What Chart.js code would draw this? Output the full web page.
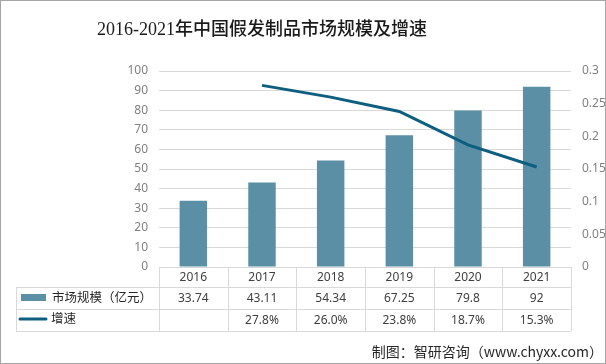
<!DOCTYPE html>
<html lang="zh">
<head>
<meta charset="UTF-8" />
<title>2016-2021年中国假发制品市场规模及增速</title>
<script src="https://cdn.jsdelivr.net/npm/chart.js"></script>
<style>
  html, body { margin: 0; padding: 0; background: #fff; }
  #wrap { position: relative; width: 606px; height: 364px; }
</style>
</head>
<body>
<div id="wrap"><canvas id="chart"></canvas></div>
<script>
const years = ["2016", "2017", "2018", "2019", "2020", "2021"];
const marketSize = [33.74, 43.11, 54.34, 67.25, 79.8, 92];
const growth = [null, 0.278, 0.26, 0.238, 0.187, 0.153];
const sizeLabels = ["33.74", "43.11", "54.34", "67.25", "79.8", "92"];
const growthLabels = ["", "27.8%", "26.0%", "23.8%", "18.7%", "15.3%"];

const barColor = "#5b8fa6";
const lineColor = "#0d5e7f";
const gridColor = "#d9d9d9";
const font = '"Noto Sans", "Noto Sans CJK SC", sans-serif';

// table, title, source note and frame drawn on top of the chart
const tablePlugin = {
  id: "tablePlugin",
  afterDraw(chart) {
    const ctx = chart.ctx;
    const x = chart.scales.x;
    const area = chart.chartArea;
    const left = 16, top = area.bottom;
    const rows = [top, 287, 309, 331];
    const step = (area.right - area.left) / years.length;

    ctx.save();
    ctx.strokeStyle = gridColor;
    ctx.lineWidth = 1;
    ctx.beginPath();
    // horizontal lines
    ctx.moveTo(area.left, top + 0.5); ctx.lineTo(area.right, top + 0.5);
    for (let i = 1; i < rows.length; i++) {
      ctx.moveTo(left, rows[i] + 0.5); ctx.lineTo(area.right, rows[i] + 0.5);
    }
    // vertical lines
    for (let i = 0; i <= years.length; i++) {
      const vx = Math.round(area.left + step * i) + 0.5;
      ctx.moveTo(vx, top); ctx.lineTo(vx, rows[3]);
    }
    ctx.moveTo(left + 0.5, rows[1]); ctx.lineTo(left + 0.5, rows[3]);
    ctx.stroke();

    ctx.fillStyle = "#404040";
    ctx.font = "12px " + font;
    ctx.textAlign = "center";
    ctx.textBaseline = "middle";
    years.forEach((y, i) => {
      const cx = x.getPixelForValue(i);
      ctx.fillText(y, cx, (rows[0] + rows[1]) / 2 + 1);
      ctx.fillText(sizeLabels[i], cx, (rows[1] + rows[2]) / 2 + 1);
      ctx.fillText(growthLabels[i], cx, (rows[2] + rows[3]) / 2 + 1);
    });

    // legend keys
    ctx.fillStyle = barColor;
    ctx.fillRect(21, 294, 25, 7);
    ctx.strokeStyle = lineColor;
    ctx.lineWidth = 3;
    ctx.lineCap = "round";
    ctx.beginPath();
    ctx.moveTo(20, 319); ctx.lineTo(46, 319);
    ctx.stroke();
    ctx.fillStyle = "#262626";
    ctx.textAlign = "left";
    ctx.font = "12.5px " + font;
    ctx.fillText("市场规模（亿元）", 52, 298);
    ctx.fillText("增速", 51, 319);

    // title
    ctx.fillStyle = "#1a1a1a";
    ctx.font = '500 18px "Liberation Serif", "Noto Sans CJK SC", serif';
    ctx.textAlign = "center";
    ctx.fillText("2016-2021年中国假发制品市场规模及增速", 262, 30);

    // source
    ctx.fillStyle = "#262626";
    ctx.font = '14px "Noto Sans CJK SC", sans-serif';
    ctx.textAlign = "right";
    ctx.fillText("制图：智研咨询（www.chyxx.com）", 603, 352);

    // frame
    ctx.strokeStyle = "#a6a6a6";
    ctx.lineWidth = 1;
    ctx.strokeRect(0.5, 0.5, 605, 363);
    ctx.restore();
  }
};

new Chart(document.getElementById("chart"), {
  data: {
    labels: years,
    datasets: [
      {
        type: "line",
        label: "增速",
        data: growth,
        yAxisID: "y1",
        borderColor: lineColor,
        borderWidth: 3,
        pointRadius: 0,
        tension: 0,
        order: 0
      },
      {
        type: "bar",
        label: "市场规模（亿元）",
        data: marketSize,
        yAxisID: "y",
        backgroundColor: barColor,
        barPercentage: 0.4,
        categoryPercentage: 1,
        order: 1
      }
    ]
  },
  options: {
    responsive: true,
    maintainAspectRatio: false,
    animation: false,
    layout: { padding: { top: 71, bottom: 97, left: 0, right: 0 } },
    plugins: { legend: { display: false }, tooltip: { enabled: false } },
    scales: {
      x: { display: false },
      y: {
        position: "left",
        min: 0, max: 100,
        ticks: { stepSize: 10, color: "#808080", padding: 11, font: { size: 12, family: font } },
        grid: { color: gridColor, drawTicks: false },
        border: { display: false },
        afterFit(s) { s.width = 159; }
      },
      y1: {
        position: "right",
        min: 0, max: 0.3,
        ticks: {
          stepSize: 0.05, color: "#808080", padding: 11, font: { size: 12, family: font },
          callback: v => String(parseFloat(v.toFixed(2)))
        },
        grid: { display: false, drawTicks: false },
        border: { display: false },
        afterFit(s) { s.width = 35; }
      }
    }
  },
  plugins: [tablePlugin]
});
</script>
</body>
</html>
